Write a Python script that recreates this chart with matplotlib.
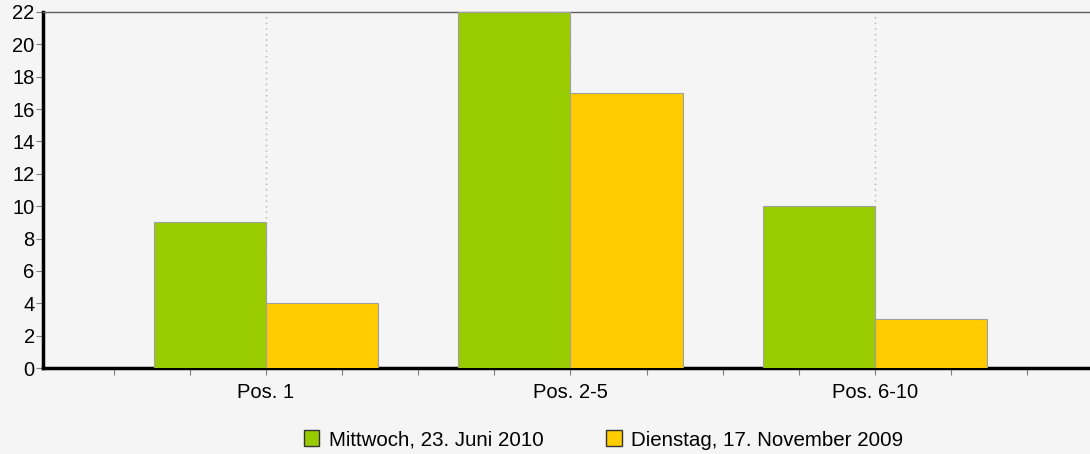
import matplotlib
matplotlib.use("Agg")
import matplotlib.pyplot as plt
import numpy as np
from matplotlib.ticker import MultipleLocator
from matplotlib.patches import Patch

categories = ["Pos. 1", "Pos. 2-5", "Pos. 6-10"]
series_names = ["Mittwoch, 23. Juni 2010", "Dienstag, 17. November 2009"]
mittwoch = [9, 22, 10]
dienstag = [4, 17, 3]
colors = ["#99cc00", "#ffcc00"]

plt.rcParams['font.family'] = ['Liberation Sans', 'DejaVu Sans']
bg = "#f5f5f5"
fs = 14.5
fig = plt.figure(figsize=(10.9, 4.54), dpi=100, facecolor=bg)
W, H = 1090, 454
ax = fig.add_axes([43 / W, 1 - 368 / H, (1090 - 43) / W, (368 - 12) / H])
ax.set_facecolor(bg)

x = np.arange(len(categories))
bw = 0.368
ax.bar(x - bw / 2, mittwoch, bw, color=colors[0], edgecolor="#a0a0a0", linewidth=0.8, zorder=3)
ax.bar(x + bw / 2, dienstag, bw, color=colors[1], edgecolor="#a0a0a0", linewidth=0.8, zorder=3)

ax.set_xlim(-0.732, 2.706)
ax.set_ylim(0, 22)
ax.set_xticks(x)
ax.set_xticklabels(categories, fontsize=fs)
ax.xaxis.set_minor_locator(MultipleLocator(0.25))
ax.set_yticks(np.arange(0, 23, 2))
ax.tick_params(axis='y', labelsize=fs, colors='#808080', labelcolor='black', length=5, width=0.8, pad=1)
ax.tick_params(axis='x', which='major', colors='#808080', labelcolor='black', length=5, width=0.8, pad=6)
ax.tick_params(axis='x', which='minor', colors='#808080', length=5, width=0.8)
ax.grid(axis='x', which='major', color='#b0b0b0', linestyle=(0, (1, 3)), linewidth=1, zorder=1)

for s in ['left', 'bottom']:
    ax.spines[s].set_color('black')
    ax.spines[s].set_linewidth(2.5)
ax.spines['top'].set_color('#606060')
ax.spines['top'].set_linewidth(1)
ax.spines['right'].set_visible(False)

handles = [Patch(facecolor=colors[0], edgecolor='#333333', label=series_names[0]),
           Patch(facecolor=colors[1], edgecolor='#333333', label=series_names[1])]
fig.legend(handles=handles, loc='center', bbox_to_anchor=(603.5 / W, 1 - 440 / H), ncol=2,
           frameon=False, fontsize=14.8, handlelength=0.75, handleheight=0.8, handletextpad=0.45,
           columnspacing=3.05, borderpad=0, borderaxespad=0)

fig.savefig("out.png", dpi=100, facecolor=bg)
